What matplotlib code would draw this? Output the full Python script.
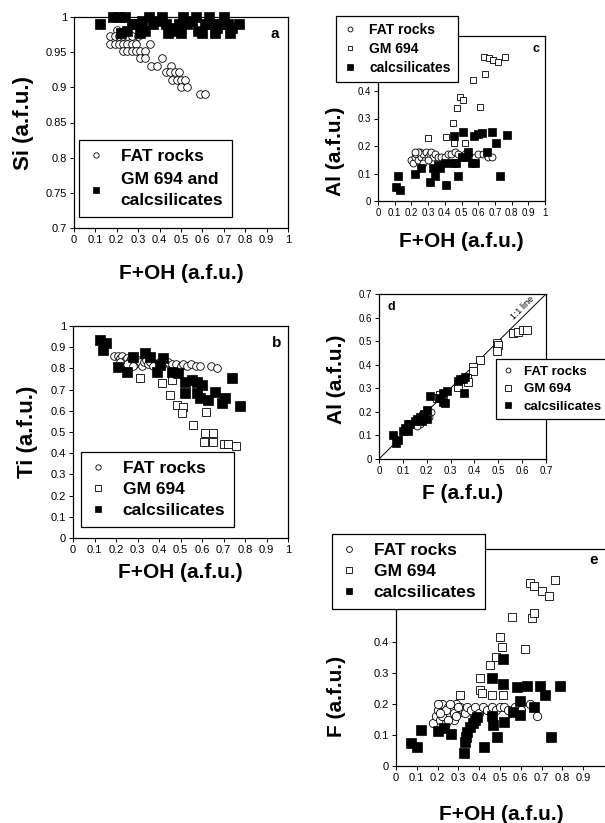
import matplotlib
matplotlib.use("Agg")
import matplotlib.pyplot as plt
from matplotlib.ticker import FuncFormatter

plt.rcParams['font.family'] = ['Liberation Sans', 'DejaVu Sans']

# ---- panel a: Si vs F+OH ----
a_fat_x = [0.20, 0.17, 0.19, 0.21, 0.23, 0.25, 0.27, 0.30, 0.17, 0.19, 0.21, 0.23, 0.25, 0.27, 0.29,
           0.355, 0.23, 0.25, 0.27, 0.29, 0.31, 0.33, 0.31, 0.33, 0.41, 0.36, 0.39, 0.455, 0.43, 0.45,
           0.47, 0.49, 0.46, 0.48, 0.50, 0.52, 0.50, 0.53, 0.59, 0.61]
a_fat_y = [0.982, 0.973, 0.973, 0.973, 0.973, 0.973, 0.973, 0.973, 0.962, 0.962, 0.962, 0.962, 0.962,
           0.962, 0.962, 0.962, 0.952, 0.952, 0.952, 0.952, 0.952, 0.952, 0.942, 0.942, 0.942, 0.931,
           0.931, 0.931, 0.922, 0.922, 0.922, 0.922, 0.911, 0.911, 0.911, 0.911, 0.900, 0.900, 0.890, 0.890]
a_gm_x = [0.12, 0.18, 0.21, 0.24, 0.22, 0.25, 0.27, 0.29, 0.31, 0.33, 0.32, 0.35, 0.37, 0.39, 0.41, 0.43,
          0.45, 0.44, 0.47, 0.49, 0.50, 0.51, 0.53, 0.55, 0.57, 0.58, 0.60, 0.61, 0.63, 0.65, 0.67, 0.66,
          0.69, 0.70, 0.72, 0.74, 0.73, 0.77]
a_gm_y = [0.990, 1.0, 1.0, 1.0, 0.977, 0.98, 0.99, 0.99, 0.977, 0.98, 0.995, 1.0, 0.99, 0.995, 1.0, 0.99,
          0.985, 0.977, 0.98, 0.99, 0.977, 1.0, 0.99, 0.995, 1.0, 0.98, 0.977, 0.99, 1.0, 0.99, 0.985, 0.977,
          0.99, 1.0, 0.99, 0.985, 0.977, 0.99]

# ---- panel b: Ti vs F+OH ----
b_fat_x = [0.19, 0.21, 0.22, 0.23, 0.24, 0.25, 0.26, 0.27, 0.28, 0.29, 0.30, 0.31, 0.32, 0.33, 0.34, 0.35,
           0.36, 0.38, 0.40, 0.42, 0.44, 0.46, 0.48, 0.50, 0.51, 0.53, 0.55, 0.57, 0.59, 0.64, 0.67, 0.25,
           0.28, 0.22, 0.37]
b_fat_y = [0.86, 0.86, 0.85, 0.86, 0.84, 0.85, 0.83, 0.85, 0.84, 0.82, 0.84, 0.83, 0.81, 0.83, 0.84, 0.82,
           0.83, 0.82, 0.83, 0.82, 0.83, 0.82, 0.82, 0.81, 0.82, 0.81, 0.82, 0.81, 0.81, 0.81, 0.80, 0.82,
           0.81, 0.83, 0.81]
b_gm_x = [0.312, 0.412, 0.459, 0.451, 0.482, 0.51, 0.506, 0.619, 0.557, 0.614, 0.609, 0.653, 0.653, 0.70,
          0.723, 0.758]
b_gm_y = [0.753, 0.73, 0.745, 0.675, 0.627, 0.616, 0.588, 0.596, 0.533, 0.495, 0.454, 0.494, 0.454, 0.443,
          0.443, 0.434]
b_cs_x = [0.126, 0.153, 0.138, 0.278, 0.335, 0.358, 0.42, 0.21, 0.25, 0.389, 0.405, 0.459, 0.49, 0.521,
          0.552, 0.575, 0.599, 0.521, 0.575, 0.591, 0.629, 0.66, 0.692, 0.707, 0.738, 0.777]
b_cs_y = [0.934, 0.918, 0.887, 0.855, 0.874, 0.855, 0.848, 0.808, 0.784, 0.784, 0.816, 0.784, 0.776, 0.737,
          0.745, 0.737, 0.722, 0.683, 0.683, 0.659, 0.651, 0.69, 0.636, 0.659, 0.753, 0.623]

# ---- panel c: Al vs F+OH ----
c_fat_x = [0.20, 0.21, 0.22, 0.23, 0.24, 0.25, 0.26, 0.27, 0.28, 0.29, 0.30, 0.31, 0.32, 0.33, 0.34, 0.24,
           0.27, 0.22, 0.30, 0.36, 0.38, 0.40, 0.42, 0.44, 0.46, 0.48, 0.50, 0.52, 0.55, 0.58, 0.60, 0.63,
           0.66, 0.68]
c_fat_y = [0.15, 0.14, 0.16, 0.17, 0.15, 0.18, 0.16, 0.17, 0.15, 0.18, 0.16, 0.17, 0.18, 0.16, 0.17, 0.18,
           0.14, 0.18, 0.15, 0.16, 0.16, 0.16, 0.17, 0.17, 0.18, 0.17, 0.16, 0.17, 0.16, 0.16, 0.17, 0.17,
           0.16, 0.16]
c_gm_x = [0.635, 0.667, 0.69, 0.72, 0.76, 0.64, 0.567, 0.49, 0.507, 0.471, 0.61, 0.447, 0.30, 0.41, 0.455, 0.52]
c_gm_y = [0.525, 0.519, 0.513, 0.507, 0.525, 0.462, 0.44, 0.379, 0.367, 0.34, 0.343, 0.285, 0.228, 0.232,
          0.212, 0.212]
c_cs_x = [0.11, 0.13, 0.12, 0.22, 0.26, 0.31, 0.34, 0.33, 0.37, 0.36, 0.40, 0.41, 0.45, 0.47, 0.48, 0.50,
          0.53, 0.54, 0.56, 0.58, 0.65, 0.455, 0.51, 0.575, 0.60, 0.62, 0.68, 0.705, 0.775, 0.73]
c_cs_y = [0.05, 0.04, 0.09, 0.10, 0.12, 0.07, 0.09, 0.12, 0.12, 0.13, 0.14, 0.06, 0.14, 0.14, 0.09, 0.16,
          0.16, 0.18, 0.14, 0.14, 0.18, 0.236, 0.252, 0.236, 0.245, 0.248, 0.252, 0.212, 0.241, 0.09]

# ---- panel d: Al vs F ----
d_fat_x = [0.14, 0.15, 0.16, 0.17, 0.18, 0.19, 0.20, 0.21, 0.22, 0.17, 0.19, 0.21, 0.16, 0.18, 0.20]
d_fat_y = [0.15, 0.16, 0.16, 0.17, 0.17, 0.18, 0.19, 0.20, 0.20, 0.15, 0.17, 0.18, 0.14, 0.19, 0.21]
d_gm_x = [0.563, 0.584, 0.605, 0.619, 0.493, 0.50, 0.493, 0.423, 0.395, 0.393, 0.368, 0.374, 0.332, 0.242, 0.256]
d_gm_y = [0.533, 0.54, 0.547, 0.547, 0.491, 0.484, 0.459, 0.42, 0.392, 0.375, 0.342, 0.328, 0.307, 0.258, 0.272]
d_cs_x = [0.33, 0.34, 0.35, 0.36, 0.355, 0.285, 0.27, 0.25, 0.214, 0.27, 0.277, 0.20, 0.19, 0.17, 0.16, 0.15,
          0.13, 0.12, 0.11, 0.10, 0.12, 0.08, 0.07, 0.06, 0.18, 0.20]
d_cs_y = [0.33, 0.34, 0.34, 0.35, 0.28, 0.29, 0.28, 0.26, 0.267, 0.243, 0.239, 0.21, 0.19, 0.18, 0.17, 0.16,
          0.15, 0.15, 0.13, 0.12, 0.12, 0.08, 0.07, 0.10, 0.16, 0.17]

# ---- panel e: F vs F+OH ----
e_fat_x = [0.18, 0.19, 0.20, 0.21, 0.22, 0.23, 0.24, 0.25, 0.26, 0.27, 0.28, 0.29, 0.30, 0.31, 0.32, 0.33,
           0.34, 0.20, 0.22, 0.24, 0.26, 0.28, 0.30, 0.21, 0.25, 0.29, 0.36, 0.38, 0.40, 0.42, 0.44, 0.46,
           0.48, 0.50, 0.52, 0.54, 0.57, 0.60, 0.643, 0.678]
e_fat_y = [0.14, 0.16, 0.18, 0.15, 0.20, 0.17, 0.14, 0.19, 0.16, 0.18, 0.15, 0.20, 0.17, 0.19, 0.18, 0.17,
           0.19, 0.20, 0.16, 0.18, 0.20, 0.17, 0.19, 0.17, 0.15, 0.16, 0.18, 0.19, 0.17, 0.19, 0.18, 0.19,
           0.18, 0.19, 0.19, 0.18, 0.19, 0.18, 0.20, 0.161]
e_gm_x = [0.646, 0.665, 0.702, 0.734, 0.766, 0.557, 0.654, 0.665, 0.498, 0.512, 0.48, 0.453, 0.622, 0.405,
          0.308, 0.405, 0.413, 0.461, 0.517]
e_gm_y = [0.591, 0.581, 0.566, 0.548, 0.60, 0.482, 0.476, 0.493, 0.415, 0.383, 0.353, 0.326, 0.376, 0.283,
          0.229, 0.245, 0.234, 0.229, 0.229]
e_cs_x = [0.514, 0.461, 0.514, 0.582, 0.63, 0.694, 0.787, 0.715, 0.598, 0.594, 0.665, 0.389, 0.381, 0.37,
          0.357, 0.341, 0.337, 0.333, 0.325, 0.421, 0.466, 0.488, 0.52, 0.464, 0.562, 0.747, 0.07, 0.10,
          0.12, 0.204, 0.231, 0.264]
e_cs_y = [0.345, 0.283, 0.265, 0.254, 0.258, 0.258, 0.258, 0.229, 0.211, 0.165, 0.191, 0.159, 0.148, 0.14,
          0.127, 0.111, 0.095, 0.078, 0.043, 0.062, 0.132, 0.095, 0.143, 0.161, 0.175, 0.092, 0.075, 0.06,
          0.115, 0.114, 0.122, 0.103]

W, H = 605, 823
fig = plt.figure(figsize=(W / 100, H / 100), dpi=100)


def axes_px(left, top, right, bottom):
    return fig.add_axes([left / W, 1 - bottom / H, (right - left) / W, (bottom - top) / H])


fmt = FuncFormatter(lambda v, p: ('%g' % round(v, 2)))


def style(ax, xt, yt, tsize=8):
    ax.set_xticks(xt)
    ax.set_yticks(yt)
    ax.xaxis.set_major_formatter(fmt)
    ax.yaxis.set_major_formatter(fmt)
    ax.tick_params(direction='out', length=3, width=0.7, labelsize=tsize, pad=2)
    for s in ax.spines.values():
        s.set_linewidth(0.9)


def fat(ax, x, y, ms=5.5):
    return ax.plot(x, y, 'o', ms=ms, mfc='white', mec='black', mew=0.6, ls='none', clip_on=False)[0]


def gm(ax, x, y, ms=6):
    return ax.plot(x, y, 's', ms=ms, mfc='white', mec='black', mew=0.6, ls='none', clip_on=False)[0]


def cs(ax, x, y, ms=6.5):
    return ax.plot(x, y, 's', ms=ms, mfc='black', mec='black', mew=0.5, ls='none', clip_on=False)[0]


def legend(ax, handles, labels, x, y, size, spacing=0.5):
    lg = ax.legend(handles, labels, loc='upper left', bbox_to_anchor=(x / W, 1 - y / H),
                   bbox_transform=fig.transFigure, fancybox=False, framealpha=1, edgecolor='black',
                   prop={'size': size, 'weight': 'bold'}, markerscale=0.7, handlelength=1.0,
                   handletextpad=0.9, labelspacing=spacing, borderpad=0.5, borderaxespad=0)
    lg.get_frame().set_linewidth(0.9)
    return lg


xt10 = [i / 10 for i in range(11)]
lab = dict(fontsize=15, fontweight='bold')

# a
ax = axes_px(74, 17, 288, 228)
h1 = fat(ax, a_fat_x, a_fat_y)
h2 = cs(ax, a_gm_x, a_gm_y, ms=7)
ax.set_xlim(0, 1)
ax.set_ylim(0.7, 1)
style(ax, xt10, [0.7, 0.75, 0.8, 0.85, 0.9, 0.95, 1.0])
ax.set_xlabel('F+OH (a.f.u.)', labelpad=14, **lab)
ax.set_ylabel('Si (a.f.u.)', labelpad=8, fontsize=16, fontweight='bold')
ax.text(0.96, 0.9, 'a', transform=ax.transAxes, fontsize=11, fontweight='bold', ha='right')
lg = legend(ax, [h1, h2], ['FAT rocks', 'GM 694 and\ncalcsilicates'], 79, 140, 12.5, spacing=0.45)
for t in lg.get_texts():
    t.set_linespacing(1.55)

# b
ax = axes_px(73, 326, 288, 538)
h1 = fat(ax, b_fat_x, b_fat_y)
h2 = gm(ax, b_gm_x, b_gm_y)
h3 = cs(ax, b_cs_x, b_cs_y)
ax.set_xlim(0, 1)
ax.set_ylim(0, 1)
style(ax, xt10, xt10)
ax.set_xlabel('F+OH (a.f.u.)', labelpad=6, **lab)
ax.set_ylabel('Ti (a.f.u.)', labelpad=9, fontsize=16, fontweight='bold')
ax.text(0.97, 0.9, 'b', transform=ax.transAxes, fontsize=11, fontweight='bold', ha='right')
legend(ax, [h1, h2, h3], ['FAT rocks', 'GM 694', 'calcsilicates'], 81, 452, 12.5, spacing=0.35)

# c
ax = axes_px(378, 36, 545, 201)
h1 = fat(ax, c_fat_x, c_fat_y, ms=5)
h2 = gm(ax, c_gm_x, c_gm_y, ms=5)
h3 = cs(ax, c_cs_x, c_cs_y, ms=5.5)
ax.set_xlim(0, 1)
ax.set_ylim(0, 0.6)
style(ax, xt10, [0, 0.1, 0.2, 0.3, 0.4], tsize=7)
ax.set_xlabel('F+OH (a.f.u.)', labelpad=10, **lab)
ax.set_ylabel('Al (a.f.u.)', **lab)
ax.yaxis.set_label_coords(-0.2, 0.3)
ax.text(0.97, 0.9, 'c', transform=ax.transAxes, fontsize=9, fontweight='bold', ha='right')
legend(ax, [h1, h2, h3], ['FAT rocks', 'GM 694', 'calcsilicates'], 336, 16, 10, spacing=0.35)

# d
ax = axes_px(379, 294, 546, 459)
ax.plot([0, 0.7], [0, 0.7], color='black', lw=0.7)
h1 = fat(ax, d_fat_x, d_fat_y, ms=5)
h2 = gm(ax, d_gm_x, d_gm_y, ms=5.5)
h3 = cs(ax, d_cs_x, d_cs_y, ms=6)
ax.set_xlim(0, 0.7)
ax.set_ylim(0, 0.7)
style(ax, [i / 10 for i in range(8)], [i / 10 for i in range(8)], tsize=7)
ax.set_xlabel('F (a.f.u.)', labelpad=6, **lab)
ax.set_ylabel('Al (a.f.u.)', **lab)
ax.yaxis.set_label_coords(-0.2, 0.48)
ax.text(0.05, 0.9, 'd', transform=ax.transAxes, fontsize=9, fontweight='bold')
ax.text(0.6, 0.64, '1:1 line', fontsize=6.5, rotation=45, ha='center', va='center')
lg = ax.legend([h1, h2, h3], ['FAT rocks', 'GM 694', 'calcsilicates'], loc='upper left',
               bbox_to_anchor=(496 / W, 1 - 359 / H), bbox_transform=fig.transFigure,
               fancybox=False, framealpha=1, edgecolor='black', prop={'size': 9.5, 'weight': 'bold'},
               markerscale=0.7, handlelength=0.8, handletextpad=0.8, labelspacing=0.4,
               borderpad=0.5, borderaxespad=0)
lg.get_frame().set_linewidth(0.9)

# e
ax = axes_px(396, 549, 606, 766)
h1 = fat(ax, e_fat_x, e_fat_y, ms=6)
h2 = gm(ax, e_gm_x, e_gm_y, ms=6)
h3 = cs(ax, e_cs_x, e_cs_y, ms=6.5)
ax.set_xlim(0, 1.01)
ax.set_ylim(0, 0.7)
style(ax, xt10[:10], [0, 0.1, 0.2, 0.3, 0.4], tsize=8)
ax.set_xlabel('F+OH (a.f.u.)', labelpad=16, **lab)
ax.set_ylabel('F (a.f.u.)', **lab)
ax.yaxis.set_label_coords(-0.24, 0.32)
ax.text(0.96, 0.93, 'e', transform=ax.transAxes, fontsize=11, fontweight='bold', ha='right')
legend(ax, [h1, h2, h3], ['FAT rocks', 'GM 694', 'calcsilicates'], 332, 534, 12.5, spacing=0.35)

fig.savefig('out.png', dpi=100)
